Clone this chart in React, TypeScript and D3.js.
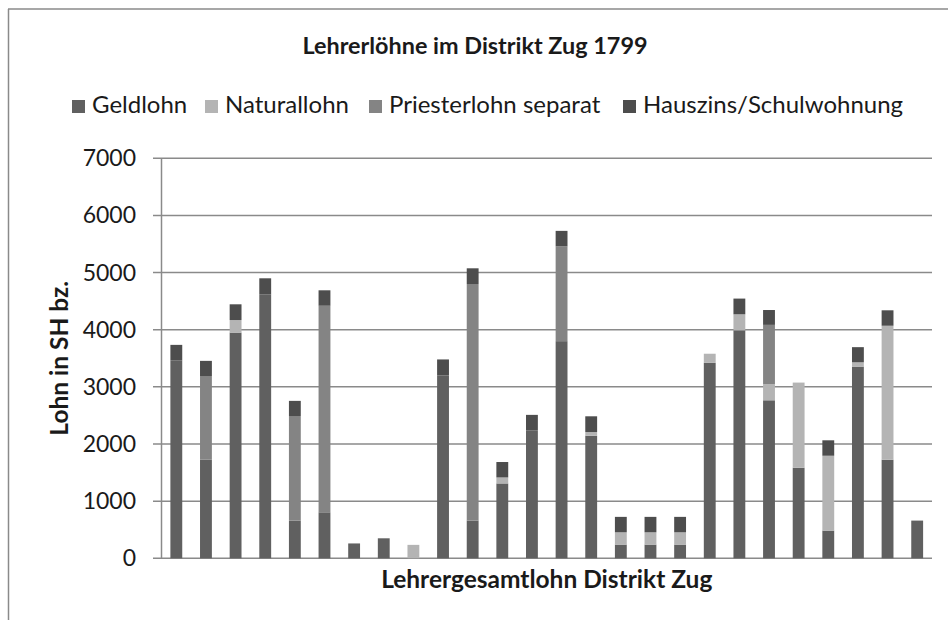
import React from "react";
import * as d3 from "d3";

const categories = ["1","2","3","4","5","6","7","8","9","10","11","12","13","14","15","16","17","18","19","20","21","22","23","24","25","26"];
const geldlohn = [3465,1725,3950,4620,660,805,260,350,0,3200,660,1310,2240,3800,2145,240,240,240,3420,3990,2765,1585,485,3355,1725,660];
const naturallohn = [0,0,220,0,0,0,0,0,235,0,0,105,0,0,65,215,215,215,160,280,280,1490,1310,75,2345,0];
const priesterlohn = [0,1465,0,0,1830,3615,0,0,0,0,4140,0,0,1660,0,0,0,0,0,0,1040,0,0,0,0,0];
const hauszins = [270,265,275,280,265,270,0,0,0,280,275,270,270,270,275,270,270,270,0,275,260,0,270,265,270,0];
const seriesNames = ["Geldlohn","Naturallohn","Priesterlohn separat","Hauszins/Schulwohnung"];
const yTicks = [0,1000,2000,3000,4000,5000,6000,7000];

const colors = ["#606060","#b4b4b4","#848484","#4d4d4d"];
const FONT = "Lato, 'Open Sans', sans-serif";

export default function App() {
  const W = 948, H = 620;
  const left = 161.5, right = 932, top = 158.3, bottom = 558.3;
  const x = d3.scaleBand<string>().domain(categories).range([left, right]).paddingInner(0.6).paddingOuter(0.3);
  const y = d3.scaleLinear().domain([0, 7000]).range([bottom, top]);
  const rows = categories.map((c, i) => ({
    cat: c,
    Geldlohn: geldlohn[i],
    Naturallohn: naturallohn[i],
    "Priesterlohn separat": priesterlohn[i],
    "Hauszins/Schulwohnung": hauszins[i],
  }));
  const stacked = d3.stack<any>().keys(seriesNames)(rows);
  const grid = "#8a8a8a";

  const legendItems = [
    { name: seriesNames[0], sx: 72 },
    { name: seriesNames[1], sx: 205 },
    { name: seriesNames[2], sx: 369 },
    { name: seriesNames[3], sx: 623 },
  ];

  return (
    <svg width={W} height={H} style={{ position: "absolute", left: 0, top: 0, background: "#fff" }} fontFamily={FONT}>
      <rect x={0} y={0} width={W} height={H} fill="#fff" />
      <line x1={8} x2={W} y1={9} y2={9} stroke={grid} strokeWidth={1.5} />
      <line x1={8.5} x2={8.5} y1={9} y2={H} stroke={grid} strokeWidth={1.5} />

      <text x={475} y={54} textAnchor="middle" fontSize={23.4} fontWeight="bold" fill="#1a1a1a">
        Lehrerlöhne im Distrikt Zug 1799
      </text>

      {legendItems.map((it, i) => (
        <g key={it.name}>
          <rect x={it.sx} y={100} width={13} height={13} fill={colors[i]} />
          <text x={it.sx + 20} y={113} fontSize={24} fill="#1a1a1a">{it.name}</text>
        </g>
      ))}

      {yTicks.map((t) => (
        <g key={t}>
          <line x1={153} x2={right} y1={y(t)} y2={y(t)} stroke={grid} strokeWidth={1.5} />
          <text x={136} y={y(t)} dy="0.35em" textAnchor="end" fontSize={23} fill="#1a1a1a">{t}</text>
        </g>
      ))}
      <line x1={left} x2={left} y1={top} y2={bottom} stroke={grid} strokeWidth={1.5} />

      {stacked.map((s, si) => (
        <g key={s.key} fill={colors[si]}>
          {s.map((d, i) => {
            const h = y(d[0]) - y(d[1]);
            if (h <= 0) return null;
            return (
              <rect key={i} x={x(categories[i])} y={y(d[1])} width={x.bandwidth()} height={h} />
            );
          })}
        </g>
      ))}

      <text transform={`translate(68,${(top + bottom) / 2}) rotate(-90)`} textAnchor="middle" fontSize={24.5} fontWeight="bold" fill="#1a1a1a">
        Lohn in SH bz.
      </text>
      <text x={(left + right) / 2} y={588} textAnchor="middle" fontSize={24.5} fontWeight="bold" fill="#1a1a1a">
        Lehrergesamtlohn Distrikt Zug
      </text>
    </svg>
  );
}
